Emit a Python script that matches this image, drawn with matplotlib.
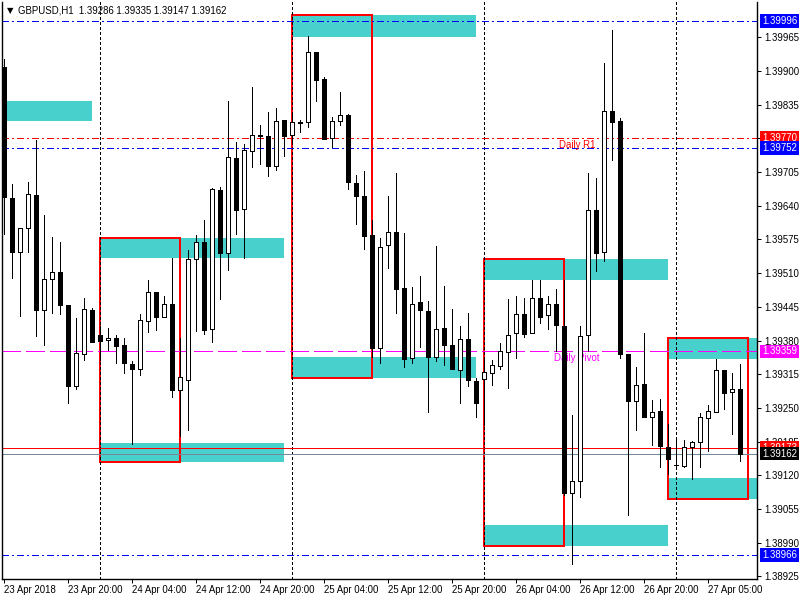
import numpy as np
import matplotlib
matplotlib.use("Agg")
import matplotlib.pyplot as plt
from matplotlib.patches import Rectangle
from matplotlib.transforms import blended_transform_factory

plt.rcParams['font.family'] = ['Liberation Sans', 'DejaVu Sans']
plt.rcParams['lines.scale_dashes'] = False

# GBPUSD H1 candles (open, high, low, close)
opens = [1.39908, 1.39655, 1.39550, 1.39597, 1.39660, 1.39438, 1.39498, 1.39512, 1.39448, 1.39292,
         1.39354, 1.39439, 1.39390, 1.39381, 1.39385, 1.39371, 1.39334, 1.39325, 1.39417, 1.39474,
         1.39425, 1.39450, 1.39284, 1.39303, 1.39537, 1.39570, 1.39403, 1.39670, 1.39548, 1.39732,
         1.39634, 1.39745, 1.39775, 1.39774, 1.39716, 1.39805, 1.39777, 1.39799, 1.39801, 1.39936,
         1.39885, 1.39770, 1.39803, 1.39815, 1.39684, 1.39658, 1.39583, 1.39366, 1.39564, 1.39589,
         1.39481, 1.39347, 1.39454, 1.39437, 1.39348, 1.39404, 1.39371, 1.39323, 1.39383, 1.39301,
         1.39306, 1.39317, 1.39331, 1.39357, 1.39394, 1.39432, 1.39394, 1.39463, 1.39429, 1.39450,
         1.39408, 1.39085, 1.39110, 1.39390, 1.39632, 1.39550, 1.39822, 1.39803, 1.39354, 1.39263,
         1.39296, 1.39233, 1.39244, 1.39175, 1.39140, 1.39138, 1.39175, 1.39184, 1.39230, 1.39242,
         1.39323, 1.39280, 1.39286]
highs = [1.39923, 1.39681, 1.39597, 1.39686, 1.39767, 1.39622, 1.39580, 1.39571, 1.39449, 1.39423,
         1.39462, 1.39442, 1.39409, 1.39404, 1.39390, 1.39385, 1.39340, 1.39432, 1.39497, 1.39474,
         1.39465, 1.39540, 1.39385, 1.39555, 1.39583, 1.39613, 1.39674, 1.39677, 1.39843, 1.39763,
         1.39759, 1.39869, 1.39796, 1.39820, 1.39829, 1.39805, 1.39819, 1.39805, 1.39967, 1.39936,
         1.39888, 1.39811, 1.39860, 1.39817, 1.39699, 1.39707, 1.39613, 1.39578, 1.39658, 1.39704,
         1.39588, 1.39483, 1.39504, 1.39457, 1.39562, 1.39485, 1.39441, 1.39409, 1.39433, 1.39308,
         1.39347, 1.39343, 1.39376, 1.39460, 1.39465, 1.39463, 1.39497, 1.39496, 1.39466, 1.39480,
         1.39496, 1.39236, 1.39408, 1.39704, 1.39694, 1.39915, 1.39979, 1.39810, 1.39354, 1.39329,
         1.39395, 1.39266, 1.39268, 1.39219, 1.39191, 1.39188, 1.39186, 1.39241, 1.39256, 1.39345,
         1.39323, 1.39317, 1.39335]
lows = [1.39585, 1.39501, 1.39428, 1.39550, 1.39389, 1.39371, 1.39434, 1.39432, 1.39259, 1.39287,
        1.39343, 1.39378, 1.39343, 1.39361, 1.39336, 1.39318, 1.39181, 1.39313, 1.39397, 1.39401,
        1.39425, 1.39272, 1.39196, 1.39208, 1.39399, 1.39392, 1.39378, 1.39460, 1.39517, 1.39586,
        1.39540, 1.39715, 1.39721, 1.39697, 1.39709, 1.39735, 1.39759, 1.39782, 1.39792, 1.39843,
        1.39769, 1.39753, 1.39795, 1.39672, 1.39604, 1.39557, 1.39348, 1.39336, 1.39519, 1.39434,
        1.39328, 1.39336, 1.39368, 1.39242, 1.39340, 1.39333, 1.39325, 1.39260, 1.39292, 1.39232,
        1.39218, 1.39295, 1.39326, 1.39288, 1.39347, 1.39387, 1.39394, 1.39414, 1.39402, 1.39360,
        1.39082, 1.38949, 1.39078, 1.39359, 1.39515, 1.39534, 1.39728, 1.39346, 1.39043, 1.39207,
        1.39233, 1.39178, 1.39136, 1.39123, 1.39137, 1.39136, 1.39112, 1.39136, 1.39166, 1.39242,
        1.39248, 1.39199, 1.39147]
closes = [1.39657, 1.39550, 1.39597, 1.39662, 1.39438, 1.39498, 1.39512, 1.39449, 1.39292, 1.39356,
          1.39440, 1.39378, 1.39380, 1.39385, 1.39369, 1.39336, 1.39325, 1.39419, 1.39474, 1.39425,
          1.39450, 1.39284, 1.39309, 1.39537, 1.39570, 1.39401, 1.39672, 1.39548, 1.39734, 1.39632,
          1.39747, 1.39776, 1.39777, 1.39716, 1.39803, 1.39774, 1.39801, 1.39801, 1.39936, 1.39883,
          1.39769, 1.39803, 1.39815, 1.39685, 1.39658, 1.39581, 1.39366, 1.39561, 1.39589, 1.39479,
          1.39345, 1.39450, 1.39438, 1.39348, 1.39403, 1.39372, 1.39325, 1.39383, 1.39303, 1.39259,
          1.39320, 1.39332, 1.39359, 1.39390, 1.39432, 1.39392, 1.39463, 1.39425, 1.39450, 1.39410,
          1.39085, 1.39110, 1.39388, 1.39632, 1.39548, 1.39822, 1.39801, 1.39354, 1.39264, 1.39294,
          1.39233, 1.39242, 1.39177, 1.39151, 1.39139, 1.39175, 1.39185, 1.39233, 1.39244, 1.39323,
          1.39279, 1.39287, 1.39162]

time_ticks = [0, 8, 16, 24, 32, 40, 48, 56, 64, 72, 80, 88]
time_labels = ['23 Apr 2018', '23 Apr 20:00', '24 Apr 04:00', '24 Apr 12:00', '24 Apr 20:00',
               '25 Apr 04:00', '25 Apr 12:00', '25 Apr 20:00', '26 Apr 04:00', '26 Apr 12:00',
               '26 Apr 20:00', '27 Apr 05:00']
day_starts = [12, 36, 60, 84]
price_ticks = [1.39965, 1.39900, 1.39835, 1.39770, 1.39705, 1.39640, 1.39575, 1.39510, 1.39445,
               1.39380, 1.39315, 1.39250, 1.39185, 1.39120, 1.39055, 1.38990, 1.38925]

# supply/demand zones: (start bar, end bar, low, high)
zones = [(-12, 11, 1.39803, 1.39843),
         (12, 35, 1.39540, 1.39578), (12, 35, 1.39145, 1.39183),
         (36, 59, 1.39966, 1.40007), (36, 59, 1.39308, 1.39349),
         (60, 83, 1.39497, 1.39538), (60, 83, 1.38984, 1.39025),
         (83, 106, 1.39345, 1.39384), (83, 106, 1.39075, 1.39114)]
# red day boxes: (start bar, end bar, low, high)
boxes = [(12, 22, 1.39145, 1.39578), (36, 46, 1.39308, 1.40007),
         (60, 70, 1.38984, 1.39538), (83, 93, 1.39075, 1.39384)]

# levels: price, colour, style
levels = [(1.39996, 'blue', (0, (5, 2.2, 1.2, 2.2))),
          (1.39770, 'red', (0, (5, 2.2, 1.2, 2.2))),
          (1.39752, 'blue', (0, (5, 2.2, 1.2, 2.2))),
          (1.39359, '#FF00FF', (0, (13, 4.3))),
          (1.39173, 'red', '-'),
          (1.39162, '#778899', '-'),
          (1.38966, 'blue', (0, (5, 2.2, 1.2, 2.2)))]
label_boxes = [(1.39996, 'blue'), (1.39770, 'red'), (1.39752, 'blue'), (1.39359, '#FF00FF'),
               (1.39173, 'red'), (1.39162, 'black'), (1.38966, 'blue')]

fs = 6.9
px = 0.72  # one pixel in points

fig = plt.figure(figsize=(8, 6), dpi=100)
ax = fig.add_axes([2 / 800, 21.5 / 600, 755.5 / 800, 576.5 / 600])
ax.set_xlim(-0.19, 94.25)
ax.set_ylim(1.38921, 1.40033)

for z in zones:
    ax.add_patch(Rectangle((z[0], z[2]), z[1] - z[0], z[3] - z[2], fc='#48D1CC', ec='none',
                           zorder=1, antialiased=False))
for b in boxes:
    ax.add_patch(Rectangle((b[0], b[2]), b[1] - b[0], b[3] - b[2], fill=False, ec='red', lw=1.44,
                           zorder=2))

for d in day_starts:
    ax.axvline(d, color='black', lw=px, ls=(0, (2, 1.5)), zorder=2.2, antialiased=False)

for p, col, st in levels:
    ax.axhline(p, color=col, lw=px, ls=st, zorder=2.3, antialiased=False)

ax.text(69.4, 1.39767, 'Daily R1', color='red', fontsize=fs, ha='left', va='top', zorder=2.4)
ax.text(68.8, 1.39356, 'Daily Pivot', color='#FF00FF', fontsize=fs, ha='left', va='top', zorder=2.4)

# candles
x = np.arange(len(opens))
o = np.array(opens)
h = np.array(highs)
l = np.array(lows)
c = np.array(closes)
ax.vlines(x, l, h, color='black', lw=px, zorder=4, antialiased=False)
bottom = np.minimum(o, c)
height = np.maximum(np.abs(c - o), 0.000012)
fill = ['black' if cc < oo else 'white' for oo, cc in zip(o, c)]
ax.bar(x, height, bottom=bottom, width=0.5, color=fill, edgecolor='black', linewidth=px,
       zorder=5, antialiased=False)

# axes look
ax.spines['top'].set_visible(False)
for s in ['left', 'right', 'bottom']:
    ax.spines[s].set_linewidth(1.0)
ax.yaxis.tick_right()
ax.set_yticks(price_ticks)
# 1.39770 sits under the R1 price box, so it is not shown
ax.set_yticklabels(['' if abs(t - 1.39770) < 1e-7 else '%.5f' % t for t in price_ticks])
ax.tick_params(axis='y', direction='out', length=3, width=px, labelsize=fs, pad=2)
ax.set_xticks(time_ticks)
ax.set_xticklabels(time_labels)
for t in ax.get_xticklabels():
    t.set_horizontalalignment('left')
ax.tick_params(axis='x', direction='out', length=3, width=px, labelsize=fs, pad=2)

trans = blended_transform_factory(ax.transAxes, ax.transData)
for i, (p, col) in enumerate(label_boxes):
    ax.text(1.006, p, '%.5f' % p, transform=trans, color='white', fontsize=fs, ha='left', va='center',
            clip_on=False, zorder=10 + i,
            bbox=dict(boxstyle='square,pad=0.2', fc=col, ec='none'))

fig.text(7 / 800, 1 - 11 / 600, '\u25bc', fontsize=6, va='center', ha='left', family='DejaVu Sans')
fig.text(18 / 800, 1 - 10.5 / 600, 'GBPUSD,H1  1.39286 1.39335 1.39147 1.39162', fontsize=fs,
         va='center', ha='left')

fig.savefig('out.png', dpi=100)
